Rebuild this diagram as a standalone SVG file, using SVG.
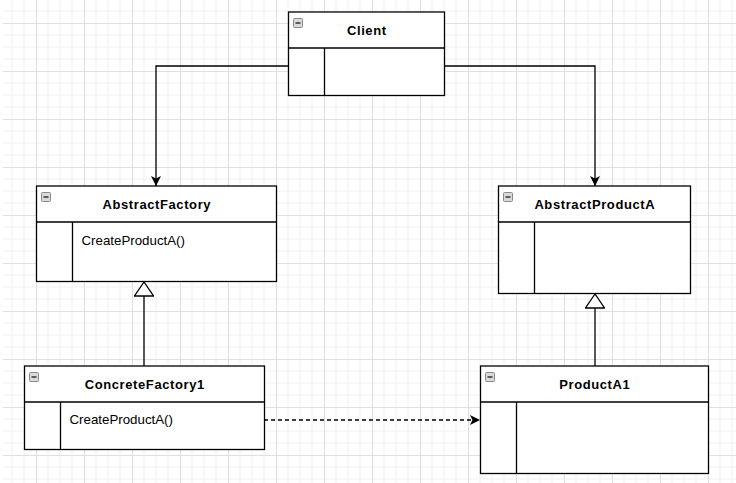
<svg xmlns="http://www.w3.org/2000/svg" width="736" height="483" viewBox="0 0 736 483">
<defs>
<pattern id="grid" patternUnits="userSpaceOnUse" x="-12" y="-25" width="48" height="48">
<path d="M12 0V48M24 0V48M36 0V48M0 12H48M0 24H48M0 36H48" stroke="#f1f1f1" stroke-width="1" fill="none"/>
<path d="M0.5 0V48M0 0.5H48" stroke="#e0e0e0" stroke-width="1" fill="none"/>
</pattern>
<marker id="arrow" viewBox="0 0 10 10" refX="10" refY="5" markerWidth="10" markerHeight="10" markerUnits="userSpaceOnUse" orient="auto">
<path d="M0 0L10 5L0 10L2.5 5Z" fill="#000"/>
</marker>
<marker id="tri" viewBox="0 0 16 20" refX="15" refY="10" markerWidth="16" markerHeight="20" markerUnits="userSpaceOnUse" orient="auto">
<path d="M15 10L1 0.5L1 19.5Z" fill="#fff" stroke="#000" stroke-width="1.3"/>
</marker>
<g id="icon"><rect x="0.5" y="0.5" width="9" height="9" rx="1" fill="#d9d9d9" stroke="#8a8a8a" stroke-width="1"/><path d="M2.5 5H7.5" stroke="#333" stroke-width="1.5"/></g>
</defs>
<style>
.box{fill:#fff;stroke:#000;stroke-width:1.3}
.ln{stroke:#000;stroke-width:1.3;fill:none}
.title{font-family:"Liberation Sans",Arial,sans-serif;font-size:13px;font-weight:bold;letter-spacing:0.6px;text-anchor:middle;fill:#000}
.op{font-family:"Liberation Sans",Arial,sans-serif;font-size:13.3px;fill:#000}
.edge{stroke:#000;stroke-width:1.3;fill:none}
</style>
<rect x="0" y="0" width="736" height="483" fill="#fff"/>
<rect x="3" y="0" width="733" height="483" fill="url(#grid)"/>

<g id="connectors">
<path class="edge" d="M288 66H156V186" marker-end="url(#arrow)"/>
<path class="edge" d="M445 66H595V186" marker-end="url(#arrow)"/>
<path class="edge" d="M144 366V282" marker-end="url(#tri)"/>
<path class="edge" d="M595 366V294" marker-end="url(#tri)"/>
<path class="edge" d="M264 420H480" stroke-dasharray="4 3" marker-end="url(#arrow)"/>
</g>

<g id="Client">
<rect class="box" x="288.5" y="12" width="156" height="83.5"/>
<path class="ln" d="M288.5 48H444.5M324.5 48V95.5"/>
<use href="#icon" x="293" y="18"/>
<text class="title" x="366.8" y="35">Client</text>
</g>

<g id="AbstractFactory">
<rect class="box" x="36.5" y="186" width="240" height="95.5"/>
<path class="ln" d="M36.5 222H276.5M72.5 222V281.5"/>
<use href="#icon" x="41" y="192"/>
<text class="title" x="156.8" y="209">AbstractFactory</text>
<text class="op" x="81.5" y="245">CreateProductA()</text>
</g>

<g id="AbstractProductA">
<rect class="box" x="498.5" y="186" width="192" height="107.5"/>
<path class="ln" d="M498.5 222H690.5M534.5 222V293.5"/>
<use href="#icon" x="503" y="192"/>
<text class="title" x="594.8" y="209">AbstractProductA</text>
</g>

<g id="ConcreteFactory1">
<rect class="box" x="24.5" y="366" width="240" height="83.5"/>
<path class="ln" d="M24.5 402H264.5M60.5 402V449.5"/>
<use href="#icon" x="29" y="372"/>
<text class="title" x="144.8" y="389">ConcreteFactory1</text>
<text class="op" x="69.5" y="424">CreateProductA()</text>
</g>

<g id="ProductA1">
<rect class="box" x="480.5" y="366" width="228" height="107.5"/>
<path class="ln" d="M480.5 402H708.5M516.5 402V473.5"/>
<use href="#icon" x="485" y="372"/>
<text class="title" x="594.8" y="389">ProductA1</text>
</g>
</svg>
